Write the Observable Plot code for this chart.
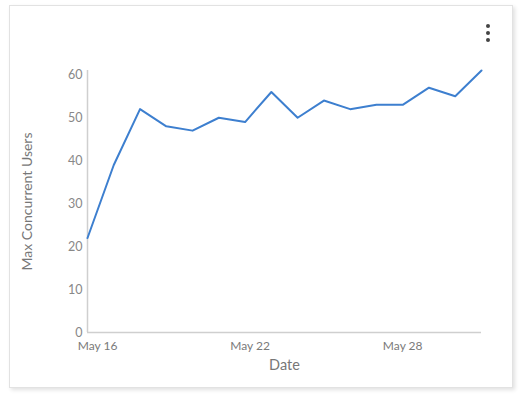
<!DOCTYPE html>
<html><head><meta charset="utf-8">
<script src="https://cdn.jsdelivr.net/npm/d3@7"></script>
<script src="https://cdn.jsdelivr.net/npm/@observablehq/plot@0.6"></script>
<style>
html,body{margin:0;padding:0;background:#fff;}
#wrap{position:relative;width:522px;height:397px;overflow:hidden;}
#card{position:absolute;left:9px;top:5px;width:502px;height:381px;border:1px solid #e2e2e2;background:#fff;box-shadow:2px 2px 4px rgba(0,0,0,0.12);}
#menu{position:absolute;left:486px;top:24px;width:6px;}
#menu span{display:block;width:4px;height:4px;border-radius:50%;background:#444;margin:0 0 3px 0;}
#chart{position:absolute;left:0;top:0;}
</style></head>
<body>
<div id="wrap"><div id="card"></div><div id="menu"><span></span><span></span><span></span></div><div id="chart"></div></div>
<script>
const dates = ["2024-05-16","2024-05-17","2024-05-18","2024-05-19","2024-05-20","2024-05-21","2024-05-22","2024-05-23","2024-05-24","2024-05-25","2024-05-26","2024-05-27","2024-05-28","2024-05-29","2024-05-30","2024-05-31"];
const users = [22, 39, 52, 48, 47, 50, 49, 56, 50, 54, 52, 53, 53, 57, 55, 61];
const xTicks = ["2024-05-16","2024-05-22","2024-05-28"];
const yTicks = [0, 10, 20, 30, 40, 50, 60];
const xTitle = "Date";
const yTitle = "Max Concurrent Users";

const data = dates.map((d, i) => ({date: new Date(d), value: users[i]}));
const fmt = d3.utcFormat("%b %-d");
const tickDx = [10, 5, 0];

const chart = Plot.plot({
  width: 522, height: 397,
  marginTop: 70, marginBottom: 65, marginLeft: 87, marginRight: 41,
  style: {fontFamily: "Lato, 'Open Sans', sans-serif", background: "transparent"},
  x: {type: "utc", domain: [data[0].date, data[data.length-1].date], label: null},
  y: {domain: [0, 61], label: null},
  marks: [
    Plot.ruleY([0], {stroke: "#cfcfcf", strokeWidth: 1.5}),
    Plot.ruleX([data[0].date], {stroke: "#cfcfcf", strokeWidth: 1.5}),
    Plot.axisY(yTicks, {tickSize: 0, tickPadding: 5, fontSize: 12.5, color: "#888", label: null}),
    ...xTicks.map((t, i) => Plot.axisX([new Date(t)], {tickSize: 0, tickPadding: 9, fontSize: 12, color: "#7a7a7a", tickFormat: fmt, label: null, dx: tickDx[i]})),
    Plot.text([xTitle], {frameAnchor: "bottom", dy: 37, fontSize: 14.5, fill: "#777"}),
    Plot.text([yTitle], {frameAnchor: "left", textAnchor: "middle", rotate: -90, dx: -60, fontSize: 14, fill: "#777"}),
    Plot.line(data, {x: "date", y: "value", stroke: "#3d7fcf", strokeWidth: 2})
  ]
});
document.getElementById("chart").appendChild(chart);
</script>
</body></html>
